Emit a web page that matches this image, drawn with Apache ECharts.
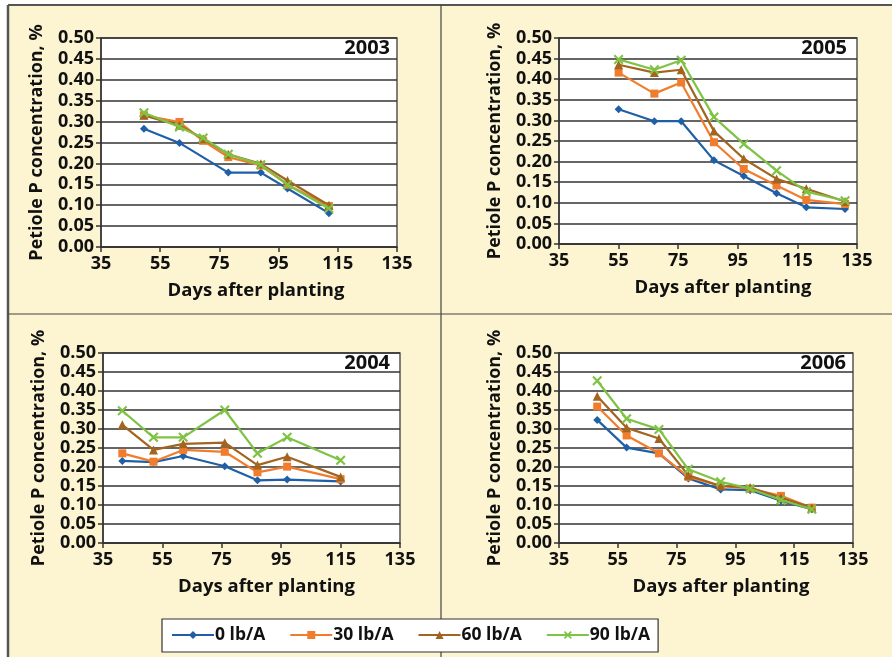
<!DOCTYPE html>
<html>
<head>
<meta charset="utf-8">
<script src="https://cdn.jsdelivr.net/npm/echarts@6/dist/echarts.min.js"></script>
<style>
html,body{margin:0;padding:0;background:#fff;}
#c{width:892px;height:657px;}
</style>
</head>
<body>
<div id="c"></div>
<script>
// ---- data ----
const seriesNames = ['0 lb/A', '30 lb/A', '60 lb/A', '90 lb/A'];
const yearLabels = ['2003', '2005', '2004', '2006'];

const days2003 = [49.5, 61.5, 69.5, 78, 89, 98, 112];
const p2003_0  = [0.283, 0.249, null, 0.178, 0.178, 0.140, 0.081];
const p2003_30 = [0.315, 0.299, 0.254, 0.215, 0.195, 0.149, 0.098];
const p2003_60 = [0.315, 0.291, 0.259, 0.222, 0.199, 0.159, 0.100];
const p2003_90 = [0.321, 0.287, 0.261, 0.222, 0.197, 0.149, 0.092];

const days2005 = [55, 67, 76, 87, 97, 108, 118, 131];
const p2005_0  = [0.327, 0.298, 0.298, 0.203, 0.165, 0.123, 0.089, 0.085];
const p2005_30 = [0.416, 0.365, 0.392, 0.247, 0.182, 0.142, 0.107, 0.097];
const p2005_60 = [0.435, 0.416, 0.423, 0.274, 0.207, 0.158, 0.134, 0.103];
const p2005_90 = [0.448, 0.423, 0.446, 0.308, 0.243, 0.178, 0.127, 0.105];

const days2004 = [41.5, 52, 62, 76, 87, 97, 115];
const p2004_0  = [0.216, 0.213, 0.229, 0.202, 0.165, 0.167, 0.162];
const p2004_30 = [0.236, 0.214, 0.245, 0.240, 0.186, 0.201, 0.168];
const p2004_60 = [0.311, 0.245, 0.261, 0.264, 0.205, 0.227, 0.174];
const p2004_90 = [0.348, 0.278, 0.278, 0.350, 0.236, 0.278, 0.218];

const days2006 = [48, 58, 69, 79, 90, 100, 110.5, 121];
const p2006_0  = [0.324, 0.251, 0.236, 0.170, 0.141, 0.139, 0.111, 0.089];
const p2006_30 = [0.359, 0.283, 0.236, 0.174, 0.150, 0.143, 0.124, 0.093];
const p2006_60 = [0.386, 0.303, 0.275, 0.178, 0.150, 0.146, 0.119, 0.093];
const p2006_90 = [0.427, 0.327, 0.299, 0.194, 0.161, 0.143, 0.113, 0.089];

const xTicks = [35, 55, 75, 95, 115, 135];
const yTicks = [0, 0.05, 0.10, 0.15, 0.20, 0.25, 0.30, 0.35, 0.40, 0.45, 0.50];

// ---- styling / layout ----
const FONT = '"Open Sans", "DejaVu Sans", sans-serif';
const colors = ['#1f5fa6', '#f07d2e', '#a2641e', '#7ec343'];
const xMark = 'path://M0,1.5 L1.5,0 L5,3.5 L8.5,0 L10,1.5 L6.5,5 L10,8.5 L8.5,10 L5,6.5 L1.5,10 L0,8.5 L3.5,5 Z';
const symbols = ['diamond', 'rect', 'triangle', xMark];
const symbolSizes = [8, 8, 9, 10];

const panels = [
  { days: days2003, vals: [p2003_0, p2003_30, p2003_60, p2003_90], grid: { left: 101, top: 38, width: 296, height: 209 }, yearX: 390, yearY: 38, nameShift: 14 },
  { days: days2005, vals: [p2005_0, p2005_30, p2005_60, p2005_90], grid: { left: 559, top: 38, width: 298, height: 206 }, yearX: 847, yearY: 38, nameShift: 30 },
  { days: days2004, vals: [p2004_0, p2004_30, p2004_60, p2004_90], grid: { left: 103, top: 353, width: 297, height: 190 }, yearX: 390, yearY: 353, nameShift: 30 },
  { days: days2006, vals: [p2006_0, p2006_30, p2006_60, p2006_90], grid: { left: 559, top: 353, width: 294, height: 190 }, yearX: 846, yearY: 353, nameShift: 30 }
];

const grids = [], xAxes = [], yAxes = [], series = [], graphics = [];

graphics.push({ type: 'rect', z: -10, shape: { x: 8, y: 5, width: 884, height: 652 }, style: { fill: '#fdf5d2' }, silent: true });
graphics.push({ type: 'line', z: -5, shape: { x1: 8, y1: 5, x2: 892, y2: 5 }, style: { stroke: '#555', lineWidth: 2 } });
graphics.push({ type: 'line', z: -5, shape: { x1: 8, y1: 5, x2: 8, y2: 657 }, style: { stroke: '#555', lineWidth: 2.5 } });
graphics.push({ type: 'line', z: -5, shape: { x1: 441, y1: 5, x2: 441, y2: 657 }, style: { stroke: '#444', lineWidth: 1.2 } });
graphics.push({ type: 'line', z: -5, shape: { x1: 8, y1: 314, x2: 892, y2: 314 }, style: { stroke: '#444', lineWidth: 1.2 } });

panels.forEach((p, i) => {
  grids.push(Object.assign({ show: true, backgroundColor: '#fff', borderColor: '#555', borderWidth: 1.5 }, p.grid));
  xAxes.push({
    type: 'value', gridIndex: i, min: xTicks[0], max: xTicks[xTicks.length - 1], interval: 20,
    name: 'Days after planting', nameLocation: 'middle', nameGap: 34,
    nameTextStyle: { fontFamily: FONT, fontWeight: 'bold', fontSize: 18.5, color: '#111', padding: [0, 0, 0, p.nameShift] },
    axisLine: { show: true, lineStyle: { color: '#333', width: 1.5 } },
    axisTick: { show: true, length: 5, inside: false, lineStyle: { color: '#333', width: 1.5 } },
    axisLabel: { fontFamily: FONT, fontWeight: 'bold', fontSize: 18, color: '#111', margin: 8 },
    splitLine: { show: false }
  });
  yAxes.push({
    type: 'value', gridIndex: i, min: yTicks[0], max: yTicks[yTicks.length - 1], interval: 0.05,
    name: 'Petiole P concentration, %', nameLocation: 'middle', nameGap: 55, nameRotate: 90,
    nameTextStyle: { fontFamily: FONT, fontWeight: 'bold', fontSize: 18, color: '#111' },
    axisLine: { show: true, lineStyle: { color: '#333', width: 1.5 } },
    axisTick: { show: true, length: 5, inside: false, lineStyle: { color: '#333', width: 1.5 } },
    axisLabel: { fontFamily: FONT, fontWeight: 'bold', fontSize: 18, color: '#111', margin: 7, formatter: v => v.toFixed(2) },
    splitLine: { show: true, lineStyle: { color: '#333', width: 1.5 } }
  });
  p.vals.forEach((vals, s) => {
    const data = [];
    p.days.forEach((d, k) => { if (vals[k] != null) data.push([d, vals[k]]); });
    series.push({
      name: seriesNames[s], type: 'line', xAxisIndex: i, yAxisIndex: i, data: data,
      symbol: symbols[s], symbolSize: symbolSizes[s], showSymbol: true,
      color: colors[s], lineStyle: { width: 2.2, color: colors[s] }, itemStyle: { color: colors[s] },
      z: 2 + s, animation: false
    });
  });
  graphics.push({
    type: 'text', z: 50, x: p.yearX, y: p.yearY,
    style: { text: yearLabels[i], font: 'bold 20px ' + FONT, fill: '#111', textAlign: 'right', textVerticalAlign: 'top' }
  });
});

const chart = echarts.init(document.getElementById('c'), null, { renderer: 'canvas' });
chart.setOption({
  backgroundColor: '#fff',
  animation: false,
  grid: grids, xAxis: xAxes, yAxis: yAxes, series: series,
  legend: {
    data: seriesNames, left: 162, top: 619, width: 496,
    orient: 'horizontal', backgroundColor: '#fff', borderColor: '#333', borderWidth: 1.2,
    padding: [7, 8, 8, 9], itemGap: 24, itemWidth: 42, itemHeight: 10,
    textStyle: { fontFamily: FONT, fontWeight: 'bold', fontSize: 17.5, color: '#111', padding: [0, 0, 0, -4] }
  },
  graphic: graphics
});
</script>
</body>
</html>
